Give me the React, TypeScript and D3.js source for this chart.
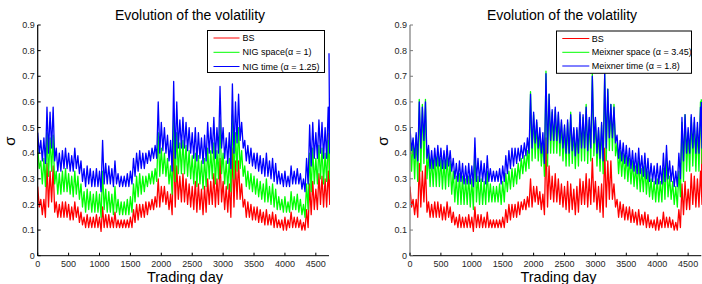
import React from "react";
import * as d3 from "d3";

// ---- data: per 50-day bin, local high and low ----
const BIN_DAYS = [
  0, 50, 100, 150, 200, 250, 300, 350, 400, 450, 500, 550, 600, 650, 700, 750, 800, 850, 900, 950,
  1000, 1050, 1100, 1150, 1200, 1250, 1300, 1350, 1400, 1450, 1500, 1550, 1600, 1650, 1700, 1750,
  1800, 1850, 1900, 1950, 2000, 2050, 2100, 2150, 2200, 2250, 2300, 2350, 2400, 2450, 2500, 2550,
  2600, 2650, 2700, 2750, 2800, 2850, 2900, 2950, 3000, 3050, 3100, 3150, 3200, 3250, 3300, 3350,
  3400, 3450, 3500, 3550, 3600, 3650, 3700, 3750, 3800, 3850, 3900, 3950, 4000, 4050, 4100, 4150,
  4200, 4250, 4300, 4350, 4400, 4450, 4500, 4550, 4600, 4650, 4700,
];
const LAST_DAY = 4713;
const X_TICKS = [0, 500, 1000, 1500, 2000, 2500, 3000, 3500, 4000, 4500];
const Y_TICKS = [0, 0.1, 0.2, 0.3, 0.4, 0.5, 0.6, 0.7, 0.8, 0.9];

const BS_HI = [0.27,0.22,0.22,0.36,0.33,0.35,0.21,0.2,0.21,0.21,0.2,0.19,0.21,0.19,0.17,0.15,0.16,0.15,0.15,0.16,0.15,0.19,0.16,0.16,0.15,0.17,0.14,0.14,0.14,0.14,0.15,0.18,0.2,0.2,0.2,0.21,0.21,0.22,0.23,0.3,0.27,0.27,0.25,0.24,0.46,0.35,0.31,0.32,0.3,0.28,0.27,0.29,0.28,0.26,0.27,0.3,0.29,0.32,0.3,0.38,0.29,0.27,0.28,0.42,0.37,0.37,0.28,0.22,0.21,0.2,0.19,0.19,0.18,0.17,0.18,0.16,0.17,0.16,0.14,0.14,0.15,0.14,0.17,0.15,0.15,0.14,0.13,0.18,0.28,0.29,0.26,0.32,0.31,0.3,0.33];
const BS_LO = [0.19,0.16,0.15,0.19,0.21,0.17,0.15,0.15,0.15,0.15,0.14,0.14,0.15,0.13,0.12,0.11,0.11,0.11,0.11,0.11,0.095,0.11,0.11,0.11,0.11,0.11,0.11,0.11,0.11,0.11,0.11,0.13,0.14,0.15,0.15,0.16,0.18,0.18,0.19,0.19,0.21,0.2,0.18,0.16,0.19,0.22,0.21,0.21,0.2,0.19,0.18,0.17,0.18,0.16,0.17,0.2,0.2,0.19,0.2,0.21,0.18,0.17,0.15,0.19,0.22,0.22,0.19,0.15,0.15,0.14,0.14,0.13,0.13,0.12,0.12,0.12,0.11,0.11,0.11,0.1,0.1,0.11,0.11,0.11,0.11,0.1,0.1,0.11,0.16,0.18,0.18,0.2,0.19,0.19,0.2];
const BS_END = 0.48;

const NIGS_HI = [0.42,0.37,0.38,0.48,0.46,0.47,0.33,0.32,0.33,0.34,0.32,0.31,0.33,0.31,0.28,0.25,0.26,0.25,0.24,0.25,0.24,0.33,0.26,0.25,0.24,0.27,0.22,0.21,0.21,0.22,0.23,0.28,0.31,0.32,0.31,0.31,0.32,0.33,0.34,0.48,0.42,0.4,0.38,0.35,0.55,0.48,0.44,0.45,0.43,0.41,0.39,0.4,0.39,0.37,0.38,0.42,0.41,0.44,0.41,0.53,0.4,0.37,0.38,0.55,0.48,0.5,0.41,0.35,0.33,0.32,0.31,0.3,0.29,0.28,0.3,0.27,0.28,0.26,0.23,0.22,0.23,0.21,0.25,0.23,0.24,0.22,0.2,0.28,0.4,0.42,0.38,0.43,0.42,0.4,0.45];
const NIGS_LO = [0.34,0.28,0.27,0.31,0.33,0.28,0.24,0.24,0.25,0.25,0.24,0.23,0.24,0.22,0.19,0.17,0.18,0.17,0.17,0.17,0.15,0.18,0.17,0.17,0.16,0.17,0.16,0.16,0.16,0.16,0.17,0.21,0.23,0.24,0.25,0.27,0.28,0.28,0.29,0.31,0.32,0.31,0.28,0.24,0.29,0.32,0.32,0.32,0.31,0.3,0.28,0.27,0.28,0.26,0.27,0.3,0.3,0.28,0.3,0.32,0.28,0.26,0.25,0.3,0.33,0.34,0.31,0.27,0.26,0.25,0.24,0.23,0.22,0.21,0.21,0.2,0.19,0.18,0.18,0.17,0.17,0.17,0.18,0.18,0.17,0.16,0.15,0.18,0.25,0.28,0.28,0.3,0.28,0.29,0.3];
const NIGS_END = 0.54;

const NIGT_HI = [0.48,0.45,0.46,0.58,0.56,0.58,0.42,0.4,0.41,0.42,0.4,0.39,0.42,0.39,0.37,0.34,0.35,0.34,0.33,0.34,0.33,0.45,0.36,0.35,0.34,0.37,0.32,0.31,0.31,0.32,0.33,0.38,0.4,0.41,0.4,0.4,0.41,0.42,0.43,0.6,0.52,0.5,0.47,0.45,0.68,0.6,0.53,0.54,0.52,0.5,0.48,0.5,0.48,0.46,0.47,0.52,0.5,0.54,0.5,0.66,0.5,0.46,0.48,0.67,0.6,0.63,0.52,0.45,0.43,0.42,0.4,0.4,0.39,0.38,0.4,0.37,0.38,0.36,0.33,0.32,0.33,0.31,0.35,0.33,0.34,0.32,0.3,0.38,0.51,0.52,0.48,0.53,0.52,0.5,0.58];
const NIGT_LO = [0.4,0.37,0.36,0.4,0.42,0.37,0.33,0.33,0.34,0.34,0.33,0.33,0.34,0.32,0.29,0.27,0.28,0.27,0.27,0.27,0.25,0.28,0.28,0.28,0.27,0.28,0.27,0.27,0.27,0.27,0.28,0.31,0.33,0.34,0.34,0.36,0.37,0.38,0.38,0.4,0.41,0.4,0.37,0.33,0.38,0.42,0.42,0.42,0.41,0.4,0.38,0.37,0.38,0.36,0.37,0.4,0.4,0.38,0.4,0.42,0.38,0.36,0.34,0.4,0.44,0.45,0.42,0.37,0.36,0.35,0.34,0.33,0.32,0.31,0.31,0.3,0.29,0.28,0.28,0.27,0.27,0.27,0.28,0.28,0.28,0.26,0.25,0.28,0.35,0.38,0.38,0.4,0.38,0.38,0.4];
const NIGT_END = 0.79;

const MXS_HI = [0.5,0.45,0.47,0.61,0.59,0.61,0.4,0.38,0.39,0.4,0.38,0.37,0.39,0.37,0.33,0.31,0.32,0.31,0.3,0.31,0.3,0.42,0.31,0.3,0.29,0.33,0.28,0.27,0.27,0.28,0.29,0.32,0.33,0.34,0.34,0.36,0.38,0.39,0.41,0.64,0.55,0.52,0.48,0.45,0.72,0.63,0.56,0.57,0.55,0.52,0.5,0.52,0.56,0.49,0.49,0.55,0.54,0.59,0.53,0.71,0.53,0.49,0.51,0.71,0.65,0.59,0.59,0.44,0.41,0.4,0.39,0.38,0.37,0.35,0.37,0.34,0.35,0.33,0.3,0.29,0.3,0.29,0.34,0.38,0.31,0.29,0.27,0.33,0.52,0.55,0.48,0.54,0.52,0.5,0.6];
const MXS_LO = [0.33,0.3,0.29,0.33,0.36,0.3,0.27,0.27,0.27,0.27,0.26,0.26,0.27,0.24,0.21,0.2,0.2,0.2,0.2,0.19,0.18,0.21,0.2,0.2,0.2,0.21,0.21,0.21,0.21,0.2,0.21,0.25,0.26,0.27,0.28,0.3,0.32,0.33,0.34,0.37,0.38,0.37,0.35,0.31,0.35,0.4,0.4,0.4,0.39,0.37,0.35,0.35,0.36,0.34,0.35,0.37,0.37,0.36,0.37,0.39,0.35,0.33,0.32,0.37,0.41,0.41,0.39,0.32,0.31,0.3,0.29,0.28,0.27,0.26,0.25,0.25,0.24,0.23,0.22,0.21,0.21,0.21,0.22,0.23,0.22,0.2,0.19,0.23,0.29,0.33,0.33,0.35,0.33,0.33,0.36];
const MXS_END = 0.61;

const MXT_HI = [0.5,0.46,0.48,0.6,0.58,0.6,0.43,0.41,0.42,0.43,0.42,0.41,0.43,0.41,0.38,0.36,0.37,0.36,0.35,0.36,0.35,0.46,0.38,0.37,0.36,0.39,0.34,0.33,0.33,0.34,0.35,0.39,0.41,0.42,0.42,0.42,0.43,0.44,0.46,0.63,0.56,0.53,0.5,0.48,0.71,0.63,0.57,0.58,0.56,0.53,0.51,0.53,0.55,0.5,0.5,0.56,0.55,0.58,0.54,0.7,0.54,0.5,0.52,0.71,0.65,0.59,0.58,0.47,0.45,0.44,0.43,0.42,0.41,0.4,0.42,0.39,0.4,0.38,0.36,0.35,0.36,0.35,0.4,0.43,0.37,0.35,0.33,0.4,0.54,0.55,0.5,0.55,0.54,0.52,0.58];
const MXT_LO = [0.41,0.38,0.37,0.42,0.45,0.38,0.34,0.34,0.35,0.35,0.34,0.34,0.35,0.33,0.3,0.29,0.29,0.28,0.28,0.28,0.27,0.29,0.29,0.29,0.28,0.29,0.29,0.29,0.29,0.28,0.29,0.32,0.34,0.35,0.36,0.37,0.38,0.39,0.4,0.42,0.44,0.42,0.4,0.36,0.4,0.45,0.45,0.45,0.44,0.42,0.4,0.4,0.41,0.39,0.4,0.42,0.42,0.41,0.42,0.44,0.4,0.38,0.37,0.42,0.46,0.46,0.44,0.38,0.37,0.36,0.35,0.34,0.33,0.32,0.32,0.31,0.3,0.29,0.29,0.28,0.28,0.28,0.29,0.3,0.29,0.27,0.27,0.3,0.37,0.4,0.4,0.42,0.4,0.4,0.42];
const MXT_END = 0.6;

const TITLE = "Evolution of the volatility";
const XLABEL = "Trading day";
const YLABEL = "σ";

type Series = { name: string; color: string; hi: number[]; lo: number[]; end: number };

const LEFT_SERIES: Series[] = [
  { name: "BS", color: "#ff0000", hi: BS_HI, lo: BS_LO, end: BS_END },
  { name: "NIG space(α = 1)", color: "#00ff00", hi: NIGS_HI, lo: NIGS_LO, end: NIGS_END },
  { name: "NIG time (α = 1.25)", color: "#0000ff", hi: NIGT_HI, lo: NIGT_LO, end: NIGT_END },
];
const RIGHT_SERIES: Series[] = [
  { name: "BS", color: "#ff0000", hi: BS_HI, lo: BS_LO, end: BS_END },
  { name: "Meixner space (α = 3.45)", color: "#00ff00", hi: MXS_HI, lo: MXS_LO, end: MXS_END },
  { name: "Meixner time (α = 1.8)", color: "#0000ff", hi: MXT_HI, lo: MXT_LO, end: MXT_END },
];

const FONT = "'Liberation Sans', Arial, Helvetica, sans-serif";

type PanelProps = {
  series: Series[];
  x0: number;
  x1: number;
  titleX: number;
  xlabelX: number;
  ylabelX: number;
  yAxisColor: string;
  legend: { x0: number; x1: number; y0: number; y1: number; lx0: number; lx1: number; tx: number; ys: number[] };
  id: string;
};

function Panel(p: PanelProps) {
  const yTop = 25;
  const yBot = 255.7;
  const x = d3.scaleLinear().domain([0, LAST_DAY]).range([p.x0, p.x1]);
  const y = d3.scaleLinear().domain([0, 0.9]).range([yBot, yTop]);
  const half = (BIN_DAYS[1] - BIN_DAYS[0]) / 2;
  const line = d3.line<[number, number]>();
  const paths = p.series.map((s) => {
    const pts: [number, number][] = [];
    BIN_DAYS.forEach((d, i) => {
      pts.push([x(d), y(s.hi[i])]);
      pts.push([x(d + half), y(s.lo[i])]);
    });
    pts.push([x(LAST_DAY), y(s.end)]);
    return line(pts) || "";
  });
  const tickColor = "#262626";
  return (
    <g>
      <defs>
        <clipPath id={p.id}>
          <rect x={p.x0} y={yTop - 2} width={p.x1 - p.x0 + 1} height={yBot - yTop + 2} />
        </clipPath>
      </defs>
      <g clipPath={`url(#${p.id})`}>
        {p.series.map((s, i) => (
          <path key={s.name} d={paths[i]} fill="none" stroke={s.color} strokeWidth={1.3} strokeLinejoin="round" />
        ))}
      </g>
      {/* axes */}
      <line x1={p.x0} x2={p.x1} y1={yBot} y2={yBot} stroke="#000" strokeWidth={1} />
      <line x1={p.x0} x2={p.x0} y1={yTop} y2={yBot} stroke={p.yAxisColor} strokeWidth={1.2} />
      {Y_TICKS.map((t) => (
        <g key={"y" + t}>
          <line x1={p.x0} x2={p.x0 + 3} y1={y(t)} y2={y(t)} stroke={p.yAxisColor} />
          <text x={p.x0 - 3} y={y(t)} dy="0.35em" textAnchor="end" fontSize={9} fill={tickColor} fontFamily={FONT}>
            {String(t)}
          </text>
        </g>
      ))}
      {X_TICKS.map((t) => (
        <g key={"x" + t}>
          <line x1={x(t)} x2={x(t)} y1={yBot} y2={yBot - 3} stroke="#000" />
          <text x={x(t)} y={267} textAnchor="middle" fontSize={9} fill={tickColor} fontFamily={FONT}>
            {String(t)}
          </text>
        </g>
      ))}
      <text x={p.titleX} y={20} textAnchor="middle" fontSize={14} fill="#000" fontFamily={FONT}>
        {TITLE}
      </text>
      <text x={p.xlabelX} y={282} textAnchor="middle" fontSize={14.5} fill="#000" fontFamily={FONT}>
        {XLABEL}
      </text>
      <text
        transform={`translate(${p.ylabelX},141) rotate(-90)`}
        textAnchor="middle"
        dy="0.35em"
        fontSize={15}
        fill="#000"
        fontFamily={FONT}
      >
        {YLABEL}
      </text>
      {/* legend */}
      <rect
        x={p.legend.x0}
        y={p.legend.y0}
        width={p.legend.x1 - p.legend.x0}
        height={p.legend.y1 - p.legend.y0}
        fill="#fff"
        stroke="#000"
        strokeWidth={1}
      />
      {p.series.map((s, i) => (
        <g key={"lg" + i}>
          <line x1={p.legend.lx0} x2={p.legend.lx1} y1={p.legend.ys[i]} y2={p.legend.ys[i]} stroke={s.color} strokeWidth={1} />
          <text x={p.legend.tx} y={p.legend.ys[i]} dy="0.35em" fontSize={9} fill="#000" fontFamily={FONT}>
            {s.name}
          </text>
        </g>
      ))}
    </g>
  );
}

export default function App() {
  return (
    <svg
      width={702}
      height={284}
      style={{ position: "absolute", left: 0, top: 0, background: "#fff" }}
    >
      <rect x={0} y={0} width={702} height={284} fill="#fff" />
      <Panel
        id="clipL"
        series={LEFT_SERIES}
        x0={37.7}
        x1={329}
        titleX={190}
        xlabelX={185}
        ylabelX={10}
        yAxisColor="#000"
        legend={{ x0: 207.5, x1: 324.5, y0: 30.5, y1: 72.5, lx0: 213.5, lx1: 239.5, tx: 242.5, ys: [38, 52.3, 66.5] }}
      />
      <Panel
        id="clipR"
        series={RIGHT_SERIES}
        x0={410}
        x1={701.3}
        titleX={562}
        xlabelX={558.5}
        ylabelX={383}
        yAxisColor="#7a7a7a"
        legend={{ x0: 556.5, x1: 691.5, y0: 31, y1: 73.3, lx0: 562.3, lx1: 589.3, tx: 591.7, ys: [38.5, 52.3, 66] }}
      />
    </svg>
  );
}
